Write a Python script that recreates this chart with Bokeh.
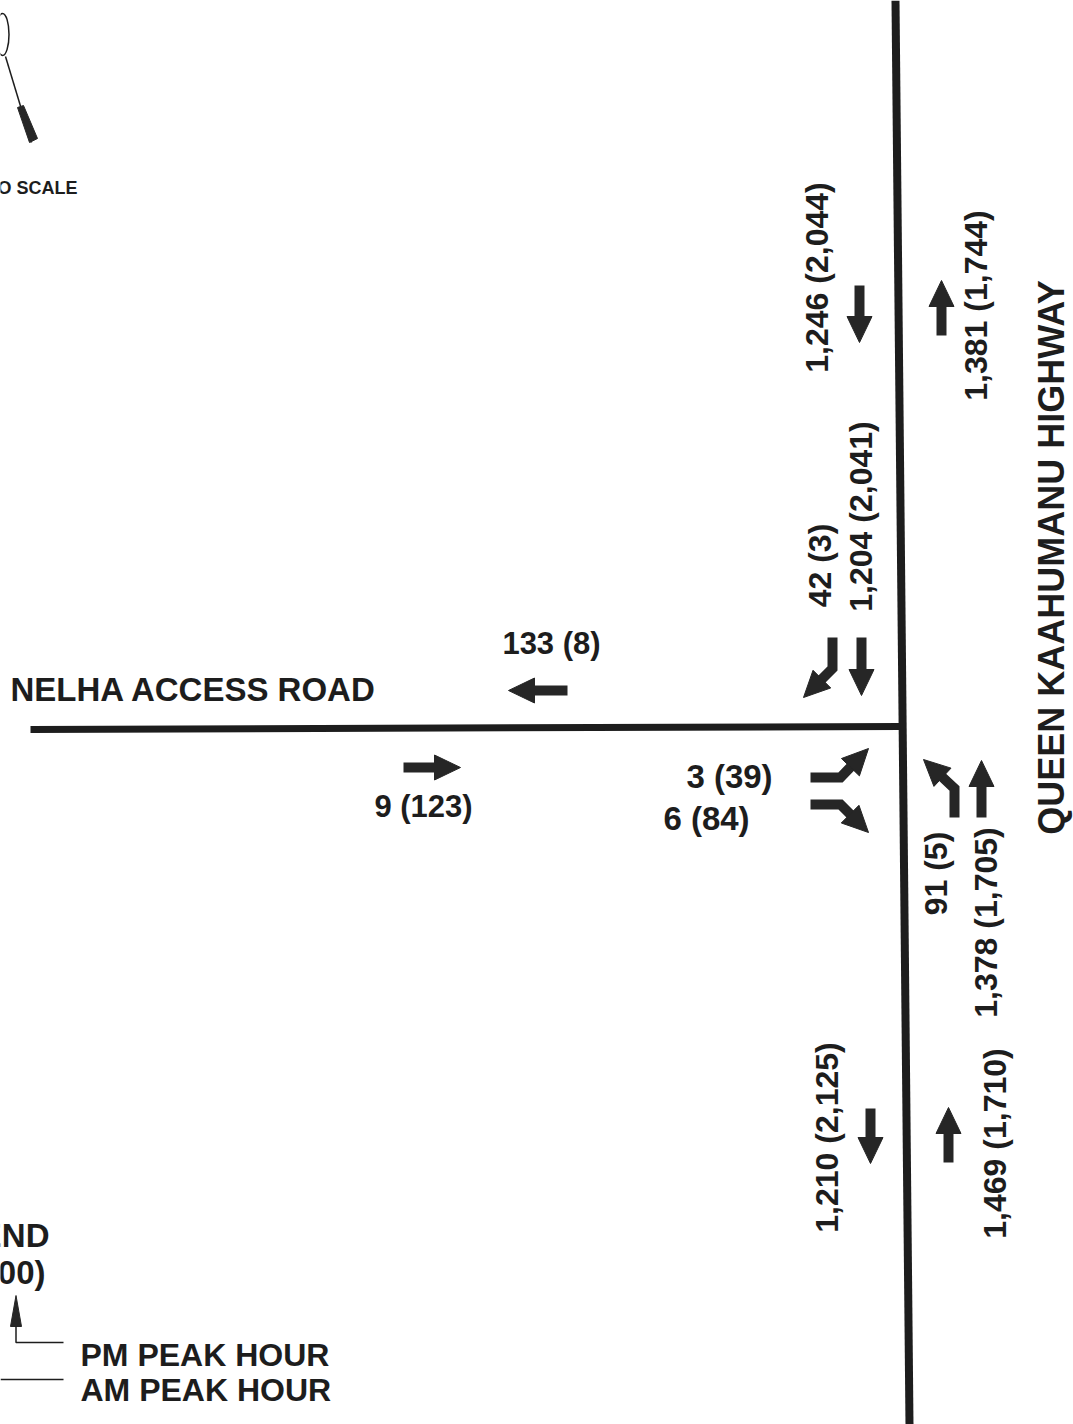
import math
from bokeh.plotting import figure
from bokeh.models import Range1d
from bokeh.core.properties import value
from bokeh.embed import file_html
from bokeh.resources import INLINE

# ---------------- data (traffic volumes: AM (PM)) ----------------
movement_labels = ["1,246 (2,044)", "1,381 (1,744)", "42 (3)", "1,204 (2,041)",
                   "91 (5)", "1,378 (1,705)", "1,210 (2,125)", "1,469 (1,710)"]
road_labels = ["133 (8)", "9 (123)", "3 (39)", "6 (84)"]
street_names = ["NELHA ACCESS ROAD", "QUEEN KAAHUMANU HIGHWAY"]
legend_texts = ["LEGEND", "100 (100)", "PM PEAK HOUR", "AM PEAK HOUR"]

# ---------------- layout (pixel positions) ----------------
vert_label_x = [816, 975, 819, 860, 935, 985, 826, 994]
vert_label_y = [277, 305, 565, 516, 873, 922, 1137, 1143]
road_label_x = [551, 423, 729, 706]
road_label_y = [643, 806, 776, 818]
road_label_sizes = ["31px", "31px", "33px", "33px"]

# arrow paths: list of points, last point is the tip
arrow_paths = [
    [(567, 690), (508, 690)],            # WB through on access road
    [(403, 767), (460, 767)],            # EB on access road
    [(859, 285), (859, 342)],            # SB upper
    [(941, 335), (941, 280)],            # NB upper
    [(870, 1108), (870, 1163)],          # SB lower
    [(948, 1162), (948, 1107)],          # NB lower
    [(861, 637), (861, 695)],            # SB through at intersection
    [(981, 817), (981, 760)],            # NB through at intersection
    [(832, 637), (832, 668), (803, 697)],  # SB left turn
    [(810, 777), (840, 777), (868, 748)],  # EB left turn
    [(810, 804), (840, 804), (868, 832)],  # EB right turn
    [(954, 817), (954, 788), (923, 759)],  # NB left turn
]

W, H = 1073, 1424
p = figure(width=W, height=H, output_backend="svg", toolbar_location=None,
           x_range=Range1d(0, W), y_range=Range1d(H, 0),
           min_border=0, background_fill_color="white", border_fill_color="white")
p.axis.visible = False
p.grid.visible = False
p.outline_line_color = None

INK = "#1d1d1d"
ARROW = "#262626"
FONT = value("Liberation Sans")

# roads
p.line([895, 909], [0, 1424], line_width=8, line_color=INK)
p.line([30, 900], [729, 726], line_width=7, line_color=INK)

# arrows
HEAD_L, HEAD_W, SHAFT_W = 26, 25, 10
shaft_xs, shaft_ys, head_xs, head_ys = [], [], [], []
for path in arrow_paths:
    (x0, y0), (x1, y1) = path[-2], path[-1]
    d = math.hypot(x1 - x0, y1 - y0)
    ux, uy = (x1 - x0) / d, (y1 - y0) / d
    bx, by = x1 - ux * HEAD_L, y1 - uy * HEAD_L
    nx, ny = -uy, ux
    head_xs.append([x1, bx + nx * HEAD_W / 2, bx - nx * HEAD_W / 2])
    head_ys.append([y1, by + ny * HEAD_W / 2, by - ny * HEAD_W / 2])
    pts = path[:-1] + [(bx + ux * 2, by + uy * 2)]
    shaft_xs.append([q[0] for q in pts])
    shaft_ys.append([q[1] for q in pts])
p.multi_line(shaft_xs, shaft_ys, line_width=SHAFT_W, line_color=ARROW,
             line_join="miter", line_cap="butt")
p.patches(head_xs, head_ys, fill_color=ARROW, line_color=ARROW, line_width=1)

# labels on the access road
for lx, ly, lt, ls in zip(road_label_x, road_label_y, road_labels, road_label_sizes):
    p.text([lx], [ly], text=[lt], text_font=FONT, text_font_size=ls,
           text_font_style="bold", text_color=INK, text_align="center",
           text_baseline="middle")

# rotated labels on the highway
p.text(vert_label_x, vert_label_y, text=movement_labels, angle=math.pi / 2,
       text_font=FONT, text_font_size="32px", text_font_style="bold",
       text_color=INK, text_align="center", text_baseline="middle")

# street names
p.text([10], [689], text=[street_names[0]], text_font=FONT, text_font_size="33px",
       text_font_style="bold", text_color=INK, text_align="left",
       text_baseline="middle")
p.text([1051], [557], text=[street_names[1]], angle=math.pi / 2, text_font=FONT,
       text_font_size="36px", text_font_style="bold", text_color=INK,
       text_align="center", text_baseline="middle")

# north arrow (partially cut off at page edge)
p.ellipse([2], [34], width=13, height=42, fill_color=None, line_color=INK, line_width=1.5)
p.line([5, 31], [56, 142], line_color=INK, line_width=1.5)
p.patch([17, 23, 37, 29], [107, 105, 138, 142], fill_color=ARROW, line_color=ARROW)
p.text([77], [187], text=["NOT TO SCALE"], text_font=FONT, text_font_size="18px",
       text_font_style="bold", text_color=INK, text_align="right",
       text_baseline="middle")

# legend
p.text([49, 45], [1235, 1272], text=legend_texts[:2], text_font=FONT,
       text_font_size="33px", text_font_style="bold", text_color=INK,
       text_align="right", text_baseline="middle")
p.text([80, 80], [1354, 1389], text=legend_texts[2:], text_font=FONT,
       text_font_size="32px", text_font_style="bold", text_color=INK,
       text_align="left", text_baseline="middle")
p.patch([15.5, 21, 10], [1295, 1326, 1326], fill_color=ARROW, line_color=ARROW)
p.line([15.5, 15.5, 63], [1326, 1342, 1342], line_color=INK, line_width=1.5)
p.line([0, 63], [1379, 1379], line_color=INK, line_width=1.5)

open("out.html", "w").write(file_html(p, INLINE))
